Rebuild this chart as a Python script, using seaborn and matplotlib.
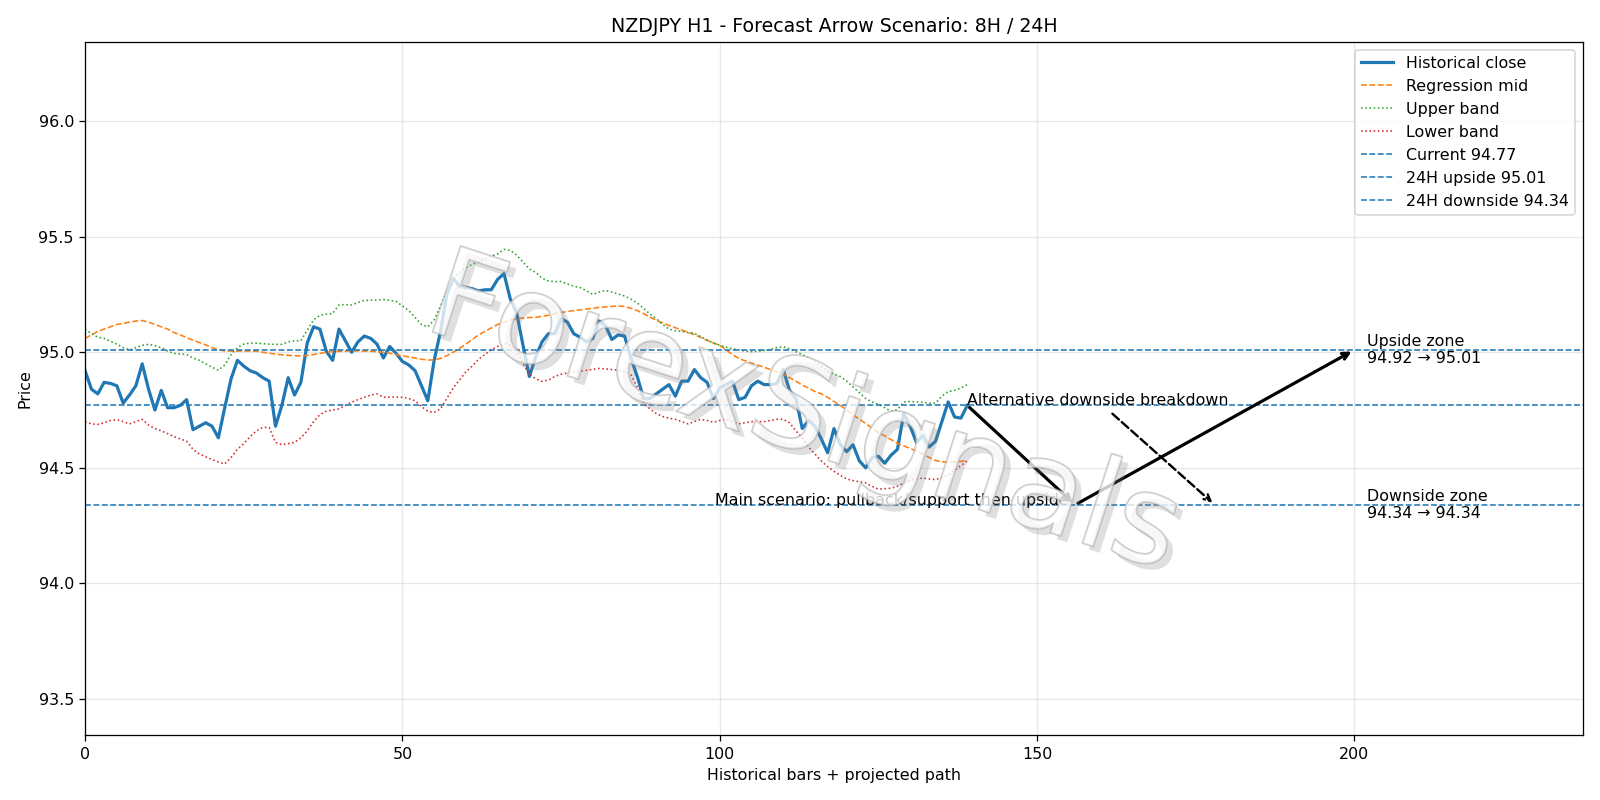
import numpy as np
import matplotlib
matplotlib.use("Agg")
import matplotlib.pyplot as plt
import matplotlib.patheffects as pe
import seaborn as sns

# hourly closes (last 140 bars)
close = [
    94.92, 94.84, 94.82, 94.87, 94.865, 94.855, 94.78, 94.815, 94.855, 94.95,
    94.84, 94.75, 94.835, 94.76, 94.76, 94.77, 94.795, 94.665, 94.68, 94.695,
    94.68, 94.63, 94.76, 94.885, 94.965, 94.94, 94.92, 94.91, 94.89, 94.875,
    94.68, 94.77, 94.89, 94.815, 94.87, 95.04, 95.11, 95.10, 95.005, 94.965,
    95.10, 95.05, 95.00, 95.045, 95.07, 95.06, 95.035, 94.975, 95.025, 94.995,
    94.96, 94.945, 94.92, 94.855, 94.79, 94.965, 95.09, 95.25, 95.32, 95.285,
    95.28, 95.275, 95.265, 95.27, 95.27, 95.315, 95.34, 95.23, 95.17, 95.03,
    94.895, 94.98, 95.045, 95.08, 95.08, 95.145, 95.13, 95.08, 95.065, 95.045,
    95.06, 95.135, 95.115, 95.055, 95.075, 95.07, 94.975, 94.895, 94.80, 94.80,
    94.82, 94.84, 94.86, 94.81, 94.875, 94.875, 94.925, 94.89, 94.87, 94.80,
    94.845, 94.86, 94.875, 94.795, 94.805, 94.855, 94.875, 94.86, 94.86, 94.865,
    94.925, 94.835, 94.80, 94.67, 94.705, 94.68, 94.625, 94.565, 94.67, 94.60,
    94.57, 94.60, 94.53, 94.50, 94.545, 94.55, 94.52, 94.555, 94.58, 94.735,
    94.68, 94.61, 94.64, 94.59, 94.615, 94.70, 94.785, 94.72, 94.715, 94.77,
]

reg_mid = [
    95.06, 95.075, 95.09, 95.10, 95.11, 95.12, 95.125, 95.13, 95.135, 95.137,
    95.13, 95.12, 95.11, 95.10, 95.085, 95.075, 95.063, 95.052, 95.042, 95.032,
    95.02, 95.01, 95.006, 95.005, 95.005, 95.005, 95.005, 95.004, 95.0, 94.996,
    94.992, 94.989, 94.987, 94.985, 94.984, 94.986, 94.99, 94.995, 95.0, 95.002,
    95.004, 95.005, 95.006, 95.006, 95.005, 95.004, 95.002, 95.0, 94.996, 94.99,
    94.985, 94.98, 94.975, 94.97, 94.966, 94.967, 94.973, 94.985, 95.0, 95.017,
    95.035, 95.055, 95.075, 95.09, 95.105, 95.12, 95.13, 95.138, 95.145, 95.148,
    95.15, 95.151, 95.155, 95.16, 95.167, 95.172, 95.176, 95.18, 95.183, 95.187,
    95.19, 95.194, 95.196, 95.198, 95.2, 95.198, 95.19, 95.18, 95.167, 95.152,
    95.138, 95.127, 95.116, 95.106, 95.096, 95.086, 95.076, 95.064, 95.052, 95.04,
    95.03, 95.01, 94.99, 94.973, 94.963, 94.953, 94.944, 94.935, 94.925, 94.916,
    94.905, 94.89, 94.875, 94.858, 94.845, 94.83, 94.82, 94.805, 94.787, 94.77,
    94.75, 94.73, 94.71, 94.692, 94.672, 94.653, 94.638, 94.622, 94.606, 94.595,
    94.584, 94.573, 94.56, 94.545, 94.532, 94.526, 94.525, 94.526, 94.528, 94.532,
]

upper = [
    95.10, 95.08, 95.065, 95.06, 95.047, 95.035, 95.02, 95.01, 95.02, 95.03,
    95.034, 95.028, 95.02, 95.005, 94.995, 94.992, 94.99, 94.975, 94.965, 94.95,
    94.935, 94.922, 94.945, 94.99, 95.02, 95.035, 95.04, 95.039, 95.037, 95.035,
    95.034, 95.034, 95.045, 95.049, 95.05, 95.095, 95.14, 95.16, 95.165, 95.167,
    95.205, 95.206, 95.204, 95.215, 95.224, 95.225, 95.226, 95.228, 95.224, 95.22,
    95.2, 95.18, 95.15, 95.12, 95.11, 95.14, 95.2, 95.265, 95.32, 95.344,
    95.365, 95.38, 95.39, 95.405, 95.415, 95.425, 95.445, 95.44, 95.42, 95.39,
    95.36, 95.345, 95.32, 95.308, 95.305, 95.306, 95.295, 95.285, 95.28, 95.265,
    95.25, 95.26, 95.267, 95.26, 95.252, 95.243, 95.23, 95.213, 95.19, 95.165,
    95.145, 95.12, 95.1, 95.093, 95.09, 95.085, 95.082, 95.068, 95.052, 95.04,
    95.03, 95.022, 95.015, 95.01, 95.005, 95.002, 95.004, 95.008, 95.012, 95.02,
    95.024, 95.015, 95.002, 94.99, 94.975, 94.96, 94.94, 94.918, 94.905, 94.895,
    94.875, 94.85, 94.825, 94.80, 94.785, 94.775, 94.76, 94.745, 94.752, 94.785,
    94.787, 94.785, 94.783, 94.78, 94.78, 94.81, 94.83, 94.835, 94.845, 94.86,
]

lower = [
    94.70, 94.69, 94.688, 94.695, 94.705, 94.708, 94.70, 94.69, 94.70, 94.71,
    94.685, 94.67, 94.66, 94.648, 94.635, 94.625, 94.615, 94.58, 94.56, 94.548,
    94.536, 94.525, 94.517, 94.545, 94.58, 94.605, 94.635, 94.66, 94.675, 94.675,
    94.61, 94.60, 94.605, 94.61, 94.63, 94.66, 94.70, 94.73, 94.745, 94.75,
    94.755, 94.77, 94.784, 94.795, 94.805, 94.815, 94.82, 94.805, 94.806, 94.806,
    94.805, 94.80, 94.79, 94.765, 94.745, 94.74, 94.755, 94.80, 94.845, 94.88,
    94.915, 94.94, 94.97, 94.99, 95.01, 95.025, 95.038, 95.03, 95.01, 94.95,
    94.905, 94.885, 94.874, 94.88, 94.895, 94.905, 94.91, 94.915, 94.918, 94.922,
    94.926, 94.93, 94.928, 94.925, 94.922, 94.915, 94.903, 94.85, 94.78, 94.755,
    94.735, 94.722, 94.715, 94.71, 94.70, 94.69, 94.70, 94.71, 94.705, 94.697,
    94.705, 94.71, 94.70, 94.69, 94.695, 94.70, 94.70, 94.70, 94.705, 94.71,
    94.71, 94.695, 94.66, 94.63, 94.59, 94.56, 94.53, 94.505, 94.485, 94.468,
    94.452, 94.445, 94.44, 94.435, 94.42, 94.408, 94.41, 94.412, 94.42, 94.435,
    94.448, 94.452, 94.456, 94.452, 94.449, 94.458, 94.47, 94.49, 94.51, 94.53,
]

current = 94.77
up_target = 95.01
down_target = 94.34
up_zone = (94.92, 95.01)
down_zone = (94.34, 94.34)

# scenario path points (bar index)
last_bar = 139
pivot_bar = 156
target_bar = 200
alt_bar = 178

bars = np.arange(len(close))

fig, ax = plt.subplots(figsize=(14, 7), dpi=1600 / 14)

sns.lineplot(x=bars, y=close, ax=ax, color="C0", lw=2, label="Historical close")
sns.lineplot(x=bars, y=reg_mid, ax=ax, color="C1", lw=1, ls="--", label="Regression mid")
sns.lineplot(x=bars, y=upper, ax=ax, color="C2", lw=1, ls=":", label="Upper band")
sns.lineplot(x=bars, y=lower, ax=ax, color="C3", lw=1, ls=":", label="Lower band")

ax.axhline(current, color="C0", ls="--", lw=1, label=f"Current {current:.2f}")
ax.axhline(up_target, color="C0", ls="--", lw=1, label=f"24H upside {up_target:.2f}")
ax.axhline(down_target, color="C0", ls="--", lw=1, label=f"24H downside {down_target:.2f}")

# main path: pullback to support then upside
ax.annotate("", xy=(pivot_bar, down_target), xytext=(last_bar, current),
            arrowprops=dict(arrowstyle="->", lw=2, color="black"))
ax.annotate("", xy=(target_bar, up_target), xytext=(pivot_bar, down_target),
            arrowprops=dict(arrowstyle="->", lw=2, color="black"))
ax.text(pivot_bar - 1, down_target, "Main scenario: pullback/support then upside",
        ha="right", va="baseline", fontsize=10)

# alternative path
ax.annotate("Alternative downside breakdown", xy=(alt_bar, down_target),
            xytext=(last_bar, current), fontsize=10,
            arrowprops=dict(arrowstyle="->", lw=1.5, ls="--", color="black"))

ax.text(target_bar + 2, up_target, f"Upside zone\n{up_zone[0]:.2f} \u2192 {up_zone[1]:.2f}",
        ha="left", va="center", fontsize=10)
ax.text(target_bar + 2, down_target, f"Downside zone\n{down_zone[0]:.2f} \u2192 {down_zone[1]:.2f}",
        ha="left", va="center", fontsize=10)

# watermark: pale hollow letters with a soft shadow
ax.text(0.48, 0.46, "ForexSignals", transform=ax.transAxes, fontsize=78,
        color="white", alpha=0.3, rotation=-18, ha="center", va="center", zorder=10,
        path_effects=[pe.withSimplePatchShadow(offset=(4, -4), shadow_rgbFace="gray", alpha=0.25),
                      pe.Stroke(linewidth=1.2, foreground="#a0a0a0", alpha=0.55),
                      pe.Normal()])

ax.set_xlim(0, 236)
ax.set_ylim(93.343, 96.343)
ax.grid(True, alpha=0.3)
ax.set_title("NZDJPY H1 - Forecast Arrow Scenario: 8H / 24H")
ax.set_xlabel("Historical bars + projected path")
ax.set_ylabel("Price")
ax.legend(loc="upper right")

plt.tight_layout()
plt.savefig("out.png")
